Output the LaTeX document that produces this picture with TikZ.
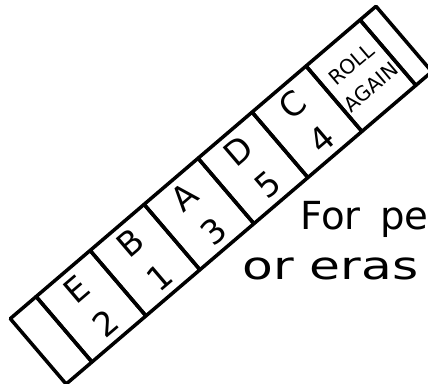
\documentclass[tikz,border=0pt]{standalone}
\usepackage{fontspec}
\setsansfont{DejaVu Sans}
\usetikzlibrary{positioning}

\begin{document}
\begin{tikzpicture}[
    cell/.style={rectangle, draw, line width=2pt, line join=round, minimum height=1.72cm, inner sep=1pt, align=center},
    big/.style={cell, minimum width=1.42cm, font=\sffamily\fontsize{19}{25.5}\selectfont},
    note/.style={anchor=base west, inner sep=0pt, font=\sffamily\fontsize{22}{26}\selectfont}
]
\useasboundingbox (0,0) rectangle (8.56,7.68);

\begin{scope}[shift={(1.34,0.04)}, rotate=40.5, transform shape]
\node[cell, minimum width=0.68cm] (blank1) at (0.30,0.84) {};
\node[big] (E) at (1.35,0.84) {E\\2};
\node[big] (B) at (2.77,0.84) {B\\1};
\node[big] (A) at (4.19,0.84) {A\\3};
\node[big] (D) at (5.61,0.84) {D\\5};
\node[big] (C) at (7.03,0.84) {C\\4};
\node[big, font=\sffamily\fontsize{11.5}{17}\selectfont] (roll) at (8.45,0.84) {ROLL\\AGAIN};
\node[cell, minimum width=0.42cm] (blank2) at (9.37,0.84) {};
\end{scope}

\node[note] (forpe) at (6.0,3.08) {For\hspace{0.5em}pe};
\node[note, xscale=1.3] (oreras) at (4.84,2.08) {or eras};
\end{tikzpicture}
\end{document}
